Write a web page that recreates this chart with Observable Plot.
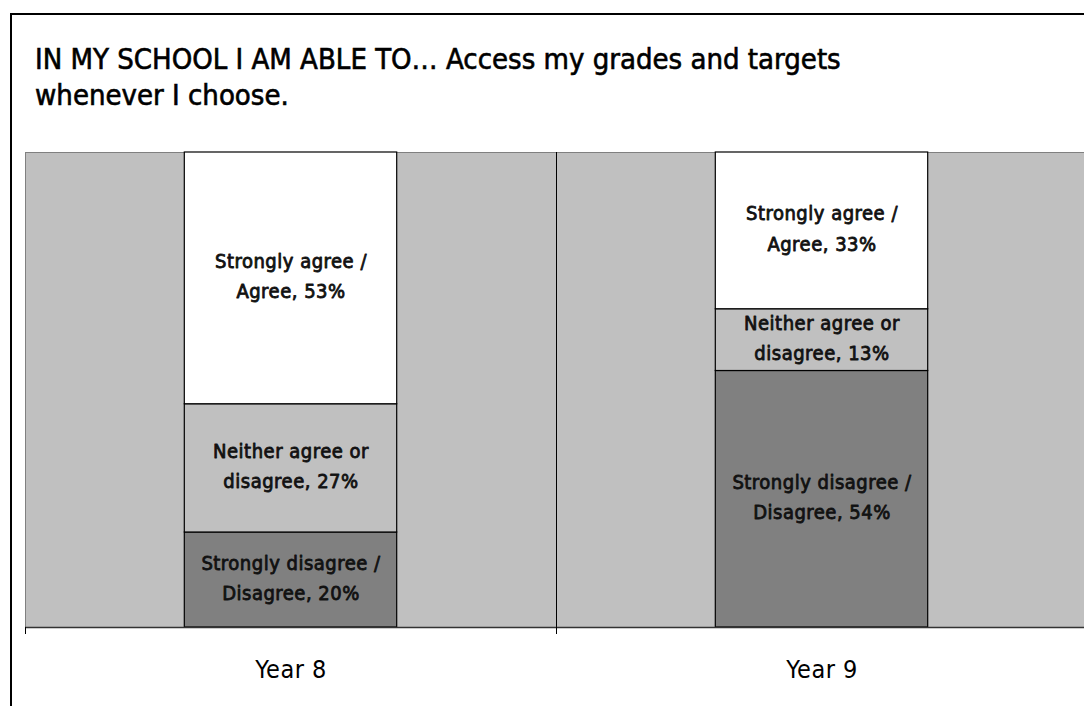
<!DOCTYPE html>
<html>
<head>
<meta charset="utf-8">
<script src="https://cdn.jsdelivr.net/npm/d3@7"></script>
<script src="https://cdn.jsdelivr.net/npm/@observablehq/plot@0.6"></script>
<style>
  html, body { margin: 0; padding: 0; background: #fff; overflow: hidden; width: 1084px; height: 706px; }
  body { position: relative; font-family: "DejaVu Sans Condensed", "DejaVu Sans", sans-serif; font-stretch: condensed; }
  #frame { position: absolute; left: 10px; top: 13px; width: 1200px; height: 800px; border: 2px solid #000; box-sizing: border-box; }
  #title { position: absolute; left: 35px; top: 41px; font-size: 29px; line-height: 36px; color: #000; z-index: 2; white-space: nowrap; -webkit-text-stroke: 0.6px #000; }
  #chart { position: absolute; left: 0; top: 0; z-index: 1; }
  #chart svg { max-width: none !important; }
</style>
</head>
<body>
<div id="frame"></div>
<div id="title">IN MY SCHOOL I AM ABLE TO… Access my grades and targets<br>whenever I choose.</div>
<div id="chart"></div>
<script>
const years = ["Year 8", "Year 9"];
const categories = ["Strongly disagree / Disagree", "Neither agree or disagree", "Strongly agree / Agree"];
const labelLine1 = ["Strongly disagree /", "Neither agree or", "Strongly agree /"];
const labelLine2 = ["Disagree", "disagree", "Agree"];
const year8Values = [20, 27, 53];
const year9Values = [54, 13, 33];
const colors = ["#808080", "#c0c0c0", "#ffffff"];

const seriesByYear = [year8Values, year9Values];
const data = [];
years.forEach((yr, i) => {
  categories.forEach((c, j) => {
    data.push({year: yr, cat: c, value: seriesByYear[i][j],
      label: labelLine1[j] + "\n" + labelLine2[j] + ", " + seriesByYear[i][j] + "%"});
  });
});

const W = 1100, H = 706;
const mL = 25, mR = 13, mT = 152, mB = 79;
const step = (W - mL - mR) / years.length;
const inset = step * 0.3;

const chart = Plot.plot({
  width: W, height: H,
  marginLeft: mL, marginRight: mR, marginTop: mT, marginBottom: mB,
  style: {fontFamily: '"DejaVu Sans Condensed", "DejaVu Sans", sans-serif', fontStretch: "condensed", background: "transparent", color: "#000", letterSpacing: "0.5px", maxWidth: "none"},
  x: {domain: years, padding: 0, axis: null},
  y: {domain: [0, 100], axis: null},
  color: {domain: categories, range: colors},
  marks: [
    Plot.frame({fill: "#c0c0c0", stroke: "#808080"}),
    Plot.ruleX(years.slice(1), {x: d => d, dx: -step / 2, stroke: "#000", strokeWidth: 1}),
    Plot.barY(data, {x: "year", y: "value", fill: "cat", stroke: "#000", strokeWidth: 1.2, insetLeft: inset, insetRight: inset, order: null}),
    Plot.text(data, Plot.stackY({x: "year", y: "value", z: "cat", text: "label", fontSize: 20, fontWeight: "normal", stroke: "#111", strokeWidth: 0.8, fill: "#111", lineHeight: 1.52, dy: -5, order: null})),
    Plot.ruleY([0], {stroke: "#333", strokeWidth: 1.5}),
    Plot.axisX({ticks: years, tickSize: 7, tickFormat: () => "", dx: -step / 2, stroke: "#000", label: null}),
    Plot.axisX({ticks: years, tickSize: 0, tickPadding: 33, fontSize: 25, label: null})
  ]
});
document.getElementById("chart").appendChild(chart);
</script>
</body>
</html>
